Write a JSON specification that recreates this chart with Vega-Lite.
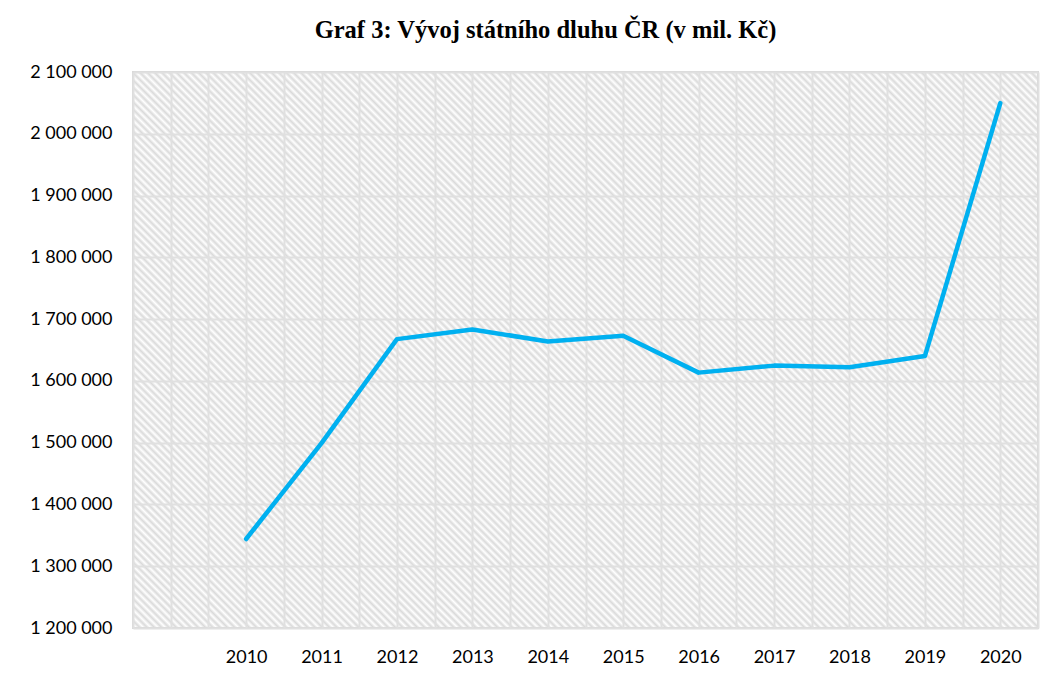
{
  "$schema": "https://vega.github.io/schema/vega-lite/v6.json",
  "width": 905,
  "height": 556,
  "autosize": {"type": "none"},
  "padding": {"left": 133, "top": 72, "right": 17, "bottom": 47},
  "background": "white",
  "title": {
    "text": "Graf 3: Vývoj státního dluhu ČR (v mil. Kč)",
    "font": "Liberation Serif",
    "fontSize": 24.5,
    "fontWeight": "bold",
    "color": "#000000",
    "anchor": "middle",
    "dx": -40,
    "offset": 20
  },
  "config": {
    "locale": {"number": {"decimal": ",", "thousands": " ", "grouping": [3], "currency": ["", " Kč"]}},
    "view": {
      "stroke": "#d9d9d9",
      "strokeWidth": 2,
      "fill": {
        "gradient": "linear",
        "x1": 0, "y1": 1, "x2": 1.172, "y2": 0.28,
        "stops": [
{"offset":0,"color":"#dadada"},{"offset":0.0025,"color":"#fff"},{"offset":0.005,"color":"#dadada"},{"offset":0.0075,"color":"#fff"},{"offset":0.01,"color":"#dadada"},{"offset":0.0125,"color":"#fff"},{"offset":0.015,"color":"#dadada"},{"offset":0.0175,"color":"#fff"},{"offset":0.02,"color":"#dadada"},{"offset":0.0225,"color":"#fff"},{"offset":0.025,"color":"#dadada"},{"offset":0.0275,"color":"#fff"},{"offset":0.03,"color":"#dadada"},{"offset":0.0325,"color":"#fff"},{"offset":0.035,"color":"#dadada"},{"offset":0.0375,"color":"#fff"},{"offset":0.04,"color":"#dadada"},{"offset":0.0425,"color":"#fff"},{"offset":0.045,"color":"#dadada"},{"offset":0.0475,"color":"#fff"},
{"offset":0.05,"color":"#dadada"},{"offset":0.0525,"color":"#fff"},{"offset":0.055,"color":"#dadada"},{"offset":0.0575,"color":"#fff"},{"offset":0.06,"color":"#dadada"},{"offset":0.0625,"color":"#fff"},{"offset":0.065,"color":"#dadada"},{"offset":0.0675,"color":"#fff"},{"offset":0.07,"color":"#dadada"},{"offset":0.0725,"color":"#fff"},{"offset":0.075,"color":"#dadada"},{"offset":0.0775,"color":"#fff"},{"offset":0.08,"color":"#dadada"},{"offset":0.0825,"color":"#fff"},{"offset":0.085,"color":"#dadada"},{"offset":0.0875,"color":"#fff"},{"offset":0.09,"color":"#dadada"},{"offset":0.0925,"color":"#fff"},{"offset":0.095,"color":"#dadada"},{"offset":0.0975,"color":"#fff"},
{"offset":0.1,"color":"#dadada"},{"offset":0.1025,"color":"#fff"},{"offset":0.105,"color":"#dadada"},{"offset":0.1075,"color":"#fff"},{"offset":0.11,"color":"#dadada"},{"offset":0.1125,"color":"#fff"},{"offset":0.115,"color":"#dadada"},{"offset":0.1175,"color":"#fff"},{"offset":0.12,"color":"#dadada"},{"offset":0.1225,"color":"#fff"},{"offset":0.125,"color":"#dadada"},{"offset":0.1275,"color":"#fff"},{"offset":0.13,"color":"#dadada"},{"offset":0.1325,"color":"#fff"},{"offset":0.135,"color":"#dadada"},{"offset":0.1375,"color":"#fff"},{"offset":0.14,"color":"#dadada"},{"offset":0.1425,"color":"#fff"},{"offset":0.145,"color":"#dadada"},{"offset":0.1475,"color":"#fff"},
{"offset":0.15,"color":"#dadada"},{"offset":0.1525,"color":"#fff"},{"offset":0.155,"color":"#dadada"},{"offset":0.1575,"color":"#fff"},{"offset":0.16,"color":"#dadada"},{"offset":0.1625,"color":"#fff"},{"offset":0.165,"color":"#dadada"},{"offset":0.1675,"color":"#fff"},{"offset":0.17,"color":"#dadada"},{"offset":0.1725,"color":"#fff"},{"offset":0.175,"color":"#dadada"},{"offset":0.1775,"color":"#fff"},{"offset":0.18,"color":"#dadada"},{"offset":0.1825,"color":"#fff"},{"offset":0.185,"color":"#dadada"},{"offset":0.1875,"color":"#fff"},{"offset":0.19,"color":"#dadada"},{"offset":0.1925,"color":"#fff"},{"offset":0.195,"color":"#dadada"},{"offset":0.1975,"color":"#fff"},
{"offset":0.2,"color":"#dadada"},{"offset":0.2025,"color":"#fff"},{"offset":0.205,"color":"#dadada"},{"offset":0.2075,"color":"#fff"},{"offset":0.21,"color":"#dadada"},{"offset":0.2125,"color":"#fff"},{"offset":0.215,"color":"#dadada"},{"offset":0.2175,"color":"#fff"},{"offset":0.22,"color":"#dadada"},{"offset":0.2225,"color":"#fff"},{"offset":0.225,"color":"#dadada"},{"offset":0.2275,"color":"#fff"},{"offset":0.23,"color":"#dadada"},{"offset":0.2325,"color":"#fff"},{"offset":0.235,"color":"#dadada"},{"offset":0.2375,"color":"#fff"},{"offset":0.24,"color":"#dadada"},{"offset":0.2425,"color":"#fff"},{"offset":0.245,"color":"#dadada"},{"offset":0.2475,"color":"#fff"},
{"offset":0.25,"color":"#dadada"},{"offset":0.2525,"color":"#fff"},{"offset":0.255,"color":"#dadada"},{"offset":0.2575,"color":"#fff"},{"offset":0.26,"color":"#dadada"},{"offset":0.2625,"color":"#fff"},{"offset":0.265,"color":"#dadada"},{"offset":0.2675,"color":"#fff"},{"offset":0.27,"color":"#dadada"},{"offset":0.2725,"color":"#fff"},{"offset":0.275,"color":"#dadada"},{"offset":0.2775,"color":"#fff"},{"offset":0.28,"color":"#dadada"},{"offset":0.2825,"color":"#fff"},{"offset":0.285,"color":"#dadada"},{"offset":0.2875,"color":"#fff"},{"offset":0.29,"color":"#dadada"},{"offset":0.2925,"color":"#fff"},{"offset":0.295,"color":"#dadada"},{"offset":0.2975,"color":"#fff"},
{"offset":0.3,"color":"#dadada"},{"offset":0.3025,"color":"#fff"},{"offset":0.305,"color":"#dadada"},{"offset":0.3075,"color":"#fff"},{"offset":0.31,"color":"#dadada"},{"offset":0.3125,"color":"#fff"},{"offset":0.315,"color":"#dadada"},{"offset":0.3175,"color":"#fff"},{"offset":0.32,"color":"#dadada"},{"offset":0.3225,"color":"#fff"},{"offset":0.325,"color":"#dadada"},{"offset":0.3275,"color":"#fff"},{"offset":0.33,"color":"#dadada"},{"offset":0.3325,"color":"#fff"},{"offset":0.335,"color":"#dadada"},{"offset":0.3375,"color":"#fff"},{"offset":0.34,"color":"#dadada"},{"offset":0.3425,"color":"#fff"},{"offset":0.345,"color":"#dadada"},{"offset":0.3475,"color":"#fff"},
{"offset":0.35,"color":"#dadada"},{"offset":0.3525,"color":"#fff"},{"offset":0.355,"color":"#dadada"},{"offset":0.3575,"color":"#fff"},{"offset":0.36,"color":"#dadada"},{"offset":0.3625,"color":"#fff"},{"offset":0.365,"color":"#dadada"},{"offset":0.3675,"color":"#fff"},{"offset":0.37,"color":"#dadada"},{"offset":0.3725,"color":"#fff"},{"offset":0.375,"color":"#dadada"},{"offset":0.3775,"color":"#fff"},{"offset":0.38,"color":"#dadada"},{"offset":0.3825,"color":"#fff"},{"offset":0.385,"color":"#dadada"},{"offset":0.3875,"color":"#fff"},{"offset":0.39,"color":"#dadada"},{"offset":0.3925,"color":"#fff"},{"offset":0.395,"color":"#dadada"},{"offset":0.3975,"color":"#fff"},
{"offset":0.4,"color":"#dadada"},{"offset":0.4025,"color":"#fff"},{"offset":0.405,"color":"#dadada"},{"offset":0.4075,"color":"#fff"},{"offset":0.41,"color":"#dadada"},{"offset":0.4125,"color":"#fff"},{"offset":0.415,"color":"#dadada"},{"offset":0.4175,"color":"#fff"},{"offset":0.42,"color":"#dadada"},{"offset":0.4225,"color":"#fff"},{"offset":0.425,"color":"#dadada"},{"offset":0.4275,"color":"#fff"},{"offset":0.43,"color":"#dadada"},{"offset":0.4325,"color":"#fff"},{"offset":0.435,"color":"#dadada"},{"offset":0.4375,"color":"#fff"},{"offset":0.44,"color":"#dadada"},{"offset":0.4425,"color":"#fff"},{"offset":0.445,"color":"#dadada"},{"offset":0.4475,"color":"#fff"},
{"offset":0.45,"color":"#dadada"},{"offset":0.4525,"color":"#fff"},{"offset":0.455,"color":"#dadada"},{"offset":0.4575,"color":"#fff"},{"offset":0.46,"color":"#dadada"},{"offset":0.4625,"color":"#fff"},{"offset":0.465,"color":"#dadada"},{"offset":0.4675,"color":"#fff"},{"offset":0.47,"color":"#dadada"},{"offset":0.4725,"color":"#fff"},{"offset":0.475,"color":"#dadada"},{"offset":0.4775,"color":"#fff"},{"offset":0.48,"color":"#dadada"},{"offset":0.4825,"color":"#fff"},{"offset":0.485,"color":"#dadada"},{"offset":0.4875,"color":"#fff"},{"offset":0.49,"color":"#dadada"},{"offset":0.4925,"color":"#fff"},{"offset":0.495,"color":"#dadada"},{"offset":0.4975,"color":"#fff"},
{"offset":0.5,"color":"#dadada"},{"offset":0.5025,"color":"#fff"},{"offset":0.505,"color":"#dadada"},{"offset":0.5075,"color":"#fff"},{"offset":0.51,"color":"#dadada"},{"offset":0.5125,"color":"#fff"},{"offset":0.515,"color":"#dadada"},{"offset":0.5175,"color":"#fff"},{"offset":0.52,"color":"#dadada"},{"offset":0.5225,"color":"#fff"},{"offset":0.525,"color":"#dadada"},{"offset":0.5275,"color":"#fff"},{"offset":0.53,"color":"#dadada"},{"offset":0.5325,"color":"#fff"},{"offset":0.535,"color":"#dadada"},{"offset":0.5375,"color":"#fff"},{"offset":0.54,"color":"#dadada"},{"offset":0.5425,"color":"#fff"},{"offset":0.545,"color":"#dadada"},{"offset":0.5475,"color":"#fff"},
{"offset":0.55,"color":"#dadada"},{"offset":0.5525,"color":"#fff"},{"offset":0.555,"color":"#dadada"},{"offset":0.5575,"color":"#fff"},{"offset":0.56,"color":"#dadada"},{"offset":0.5625,"color":"#fff"},{"offset":0.565,"color":"#dadada"},{"offset":0.5675,"color":"#fff"},{"offset":0.57,"color":"#dadada"},{"offset":0.5725,"color":"#fff"},{"offset":0.575,"color":"#dadada"},{"offset":0.5775,"color":"#fff"},{"offset":0.58,"color":"#dadada"},{"offset":0.5825,"color":"#fff"},{"offset":0.585,"color":"#dadada"},{"offset":0.5875,"color":"#fff"},{"offset":0.59,"color":"#dadada"},{"offset":0.5925,"color":"#fff"},{"offset":0.595,"color":"#dadada"},{"offset":0.5975,"color":"#fff"},
{"offset":0.6,"color":"#dadada"},{"offset":0.6025,"color":"#fff"},{"offset":0.605,"color":"#dadada"},{"offset":0.6075,"color":"#fff"},{"offset":0.61,"color":"#dadada"},{"offset":0.6125,"color":"#fff"},{"offset":0.615,"color":"#dadada"},{"offset":0.6175,"color":"#fff"},{"offset":0.62,"color":"#dadada"},{"offset":0.6225,"color":"#fff"},{"offset":0.625,"color":"#dadada"},{"offset":0.6275,"color":"#fff"},{"offset":0.63,"color":"#dadada"},{"offset":0.6325,"color":"#fff"},{"offset":0.635,"color":"#dadada"},{"offset":0.6375,"color":"#fff"},{"offset":0.64,"color":"#dadada"},{"offset":0.6425,"color":"#fff"},{"offset":0.645,"color":"#dadada"},{"offset":0.6475,"color":"#fff"},
{"offset":0.65,"color":"#dadada"},{"offset":0.6525,"color":"#fff"},{"offset":0.655,"color":"#dadada"},{"offset":0.6575,"color":"#fff"},{"offset":0.66,"color":"#dadada"},{"offset":0.6625,"color":"#fff"},{"offset":0.665,"color":"#dadada"},{"offset":0.6675,"color":"#fff"},{"offset":0.67,"color":"#dadada"},{"offset":0.6725,"color":"#fff"},{"offset":0.675,"color":"#dadada"},{"offset":0.6775,"color":"#fff"},{"offset":0.68,"color":"#dadada"},{"offset":0.6825,"color":"#fff"},{"offset":0.685,"color":"#dadada"},{"offset":0.6875,"color":"#fff"},{"offset":0.69,"color":"#dadada"},{"offset":0.6925,"color":"#fff"},{"offset":0.695,"color":"#dadada"},{"offset":0.6975,"color":"#fff"},
{"offset":0.7,"color":"#dadada"},{"offset":0.7025,"color":"#fff"},{"offset":0.705,"color":"#dadada"},{"offset":0.7075,"color":"#fff"},{"offset":0.71,"color":"#dadada"},{"offset":0.7125,"color":"#fff"},{"offset":0.715,"color":"#dadada"},{"offset":0.7175,"color":"#fff"},{"offset":0.72,"color":"#dadada"},{"offset":0.7225,"color":"#fff"},{"offset":0.725,"color":"#dadada"},{"offset":0.7275,"color":"#fff"},{"offset":0.73,"color":"#dadada"},{"offset":0.7325,"color":"#fff"},{"offset":0.735,"color":"#dadada"},{"offset":0.7375,"color":"#fff"},{"offset":0.74,"color":"#dadada"},{"offset":0.7425,"color":"#fff"},{"offset":0.745,"color":"#dadada"},{"offset":0.7475,"color":"#fff"},
{"offset":0.75,"color":"#dadada"},{"offset":0.7525,"color":"#fff"},{"offset":0.755,"color":"#dadada"},{"offset":0.7575,"color":"#fff"},{"offset":0.76,"color":"#dadada"},{"offset":0.7625,"color":"#fff"},{"offset":0.765,"color":"#dadada"},{"offset":0.7675,"color":"#fff"},{"offset":0.77,"color":"#dadada"},{"offset":0.7725,"color":"#fff"},{"offset":0.775,"color":"#dadada"},{"offset":0.7775,"color":"#fff"},{"offset":0.78,"color":"#dadada"},{"offset":0.7825,"color":"#fff"},{"offset":0.785,"color":"#dadada"},{"offset":0.7875,"color":"#fff"},{"offset":0.79,"color":"#dadada"},{"offset":0.7925,"color":"#fff"},{"offset":0.795,"color":"#dadada"},{"offset":0.7975,"color":"#fff"},
{"offset":0.8,"color":"#dadada"},{"offset":0.8025,"color":"#fff"},{"offset":0.805,"color":"#dadada"},{"offset":0.8075,"color":"#fff"},{"offset":0.81,"color":"#dadada"},{"offset":0.8125,"color":"#fff"},{"offset":0.815,"color":"#dadada"},{"offset":0.8175,"color":"#fff"},{"offset":0.82,"color":"#dadada"},{"offset":0.8225,"color":"#fff"},{"offset":0.825,"color":"#dadada"},{"offset":0.8275,"color":"#fff"},{"offset":0.83,"color":"#dadada"},{"offset":0.8325,"color":"#fff"},{"offset":0.835,"color":"#dadada"},{"offset":0.8375,"color":"#fff"},{"offset":0.84,"color":"#dadada"},{"offset":0.8425,"color":"#fff"},{"offset":0.845,"color":"#dadada"},{"offset":0.8475,"color":"#fff"},
{"offset":0.85,"color":"#dadada"},{"offset":0.8525,"color":"#fff"},{"offset":0.855,"color":"#dadada"},{"offset":0.8575,"color":"#fff"},{"offset":0.86,"color":"#dadada"},{"offset":0.8625,"color":"#fff"},{"offset":0.865,"color":"#dadada"},{"offset":0.8675,"color":"#fff"},{"offset":0.87,"color":"#dadada"},{"offset":0.8725,"color":"#fff"},{"offset":0.875,"color":"#dadada"},{"offset":0.8775,"color":"#fff"},{"offset":0.88,"color":"#dadada"},{"offset":0.8825,"color":"#fff"},{"offset":0.885,"color":"#dadada"},{"offset":0.8875,"color":"#fff"},{"offset":0.89,"color":"#dadada"},{"offset":0.8925,"color":"#fff"},{"offset":0.895,"color":"#dadada"},{"offset":0.8975,"color":"#fff"},
{"offset":0.9,"color":"#dadada"},{"offset":0.9025,"color":"#fff"},{"offset":0.905,"color":"#dadada"},{"offset":0.9075,"color":"#fff"},{"offset":0.91,"color":"#dadada"},{"offset":0.9125,"color":"#fff"},{"offset":0.915,"color":"#dadada"},{"offset":0.9175,"color":"#fff"},{"offset":0.92,"color":"#dadada"},{"offset":0.9225,"color":"#fff"},{"offset":0.925,"color":"#dadada"},{"offset":0.9275,"color":"#fff"},{"offset":0.93,"color":"#dadada"},{"offset":0.9325,"color":"#fff"},{"offset":0.935,"color":"#dadada"},{"offset":0.9375,"color":"#fff"},{"offset":0.94,"color":"#dadada"},{"offset":0.9425,"color":"#fff"},{"offset":0.945,"color":"#dadada"},{"offset":0.9475,"color":"#fff"},
{"offset":0.95,"color":"#dadada"},{"offset":0.9525,"color":"#fff"},{"offset":0.955,"color":"#dadada"},{"offset":0.9575,"color":"#fff"},{"offset":0.96,"color":"#dadada"},{"offset":0.9625,"color":"#fff"},{"offset":0.965,"color":"#dadada"},{"offset":0.9675,"color":"#fff"},{"offset":0.97,"color":"#dadada"},{"offset":0.9725,"color":"#fff"},{"offset":0.975,"color":"#dadada"},{"offset":0.9775,"color":"#fff"},{"offset":0.98,"color":"#dadada"},{"offset":0.9825,"color":"#fff"},{"offset":0.985,"color":"#dadada"},{"offset":0.9875,"color":"#fff"},{"offset":0.99,"color":"#dadada"},{"offset":0.9925,"color":"#fff"},{"offset":0.995,"color":"#dadada"},{"offset":0.9975,"color":"#fff"},
{"offset":1,"color":"#dadada"}
        ]
      }
    }
  },
  "data": {
    "values": [
      {"year": 2010, "debt": 1344060},
      {"year": 2011, "debt": 1499372},
      {"year": 2012, "debt": 1667627},
      {"year": 2013, "debt": 1683327},
      {"year": 2014, "debt": 1663703},
      {"year": 2015, "debt": 1672977},
      {"year": 2016, "debt": 1613374},
      {"year": 2017, "debt": 1624716},
      {"year": 2018, "debt": 1622004},
      {"year": 2019, "debt": 1640209},
      {"year": 2020, "debt": 2049679}
    ]
  },
  "mark": {"type": "line", "color": "#00b0f0", "strokeWidth": 4.5, "strokeJoin": "round", "strokeCap": "round"},
  "encoding": {
    "x": {
      "field": "year",
      "type": "quantitative",
      "scale": {"domain": [2008.5, 2020.5], "nice": false, "zero": false},
      "axis": {
        "title": null,
        "values": [2008.5, 2009, 2009.5, 2010, 2010.5, 2011, 2011.5, 2012, 2012.5, 2013, 2013.5, 2014, 2014.5, 2015, 2015.5, 2016, 2016.5, 2017, 2017.5, 2018, 2018.5, 2019, 2019.5, 2020, 2020.5],
        "labelExpr": "datum.value >= 2010 && datum.value % 1 == 0 ? '' + datum.value : ''",
        "domain": false,
        "ticks": false,
        "grid": true,
        "gridColor": "#e0e0e0",
        "gridWidth": 2,
        "labelFont": "Lato",
        "labelFontSize": 18,
        "labelColor": "#000000",
        "labelPadding": 20,
        "labelOverlap": false,
        "labelFlush": false
      }
    },
    "y": {
      "field": "debt",
      "type": "quantitative",
      "scale": {"domain": [1200000, 2100000], "nice": false, "zero": false},
      "axis": {
        "title": null,
        "values": [1200000, 1300000, 1400000, 1500000, 1600000, 1700000, 1800000, 1900000, 2000000, 2100000],
        "format": ",d",
        "domain": false,
        "ticks": false,
        "grid": true,
        "gridColor": "#e0e0e0",
        "gridWidth": 2,
        "labelFont": "Lato",
        "labelFontSize": 18,
        "labelColor": "#000000",
        "labelPadding": 21,
        "labelOverlap": false,
        "labelFlush": false
      }
    }
  }
}
